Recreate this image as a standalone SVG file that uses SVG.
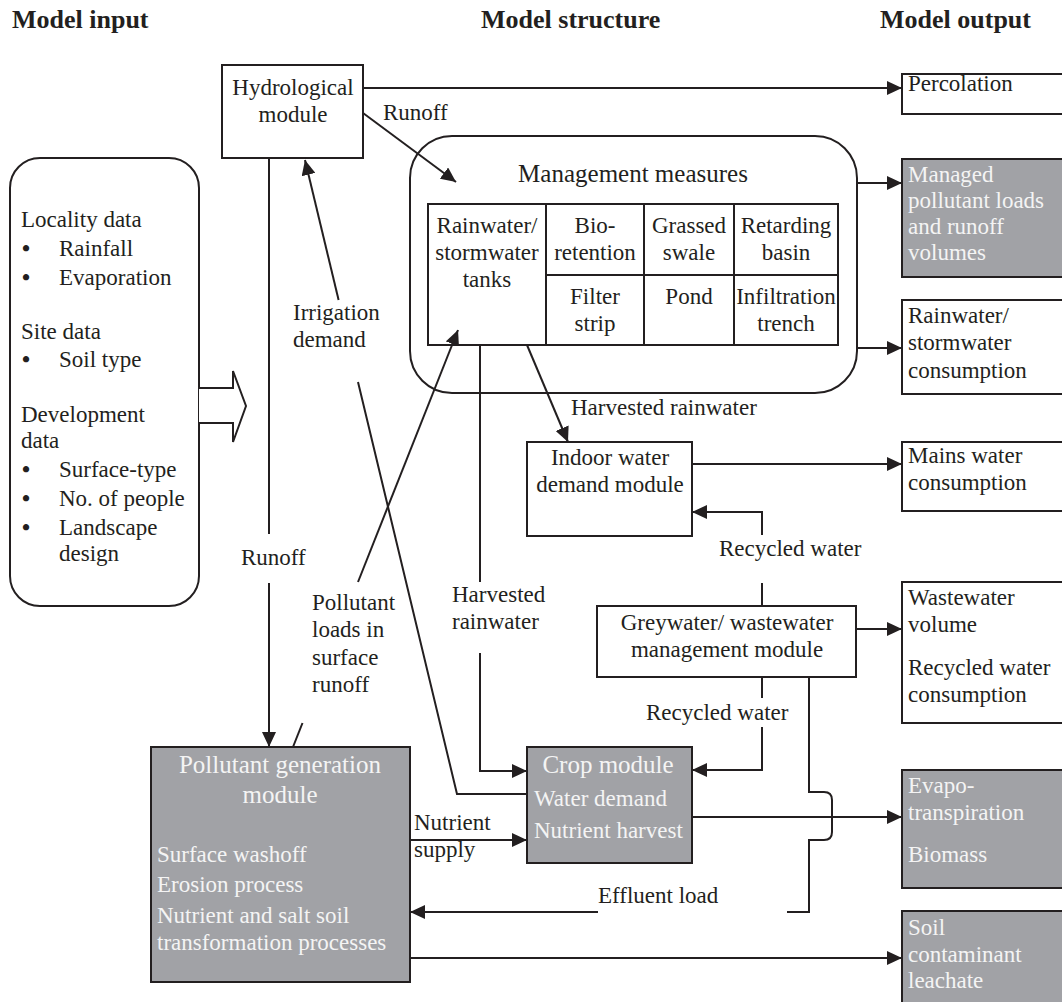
<svg xmlns="http://www.w3.org/2000/svg" width="1062" height="1002" viewBox="0 0 1062 1002">
<defs>
<style>
.t{font-family:"Liberation Serif","Times New Roman",serif;font-size:23px;fill:#231f20}
.w{fill:#f4f4f4}
.c{text-anchor:middle}
.h{font-weight:bold;font-size:26px}
.big{font-size:25px}
.b{font-weight:bold;text-anchor:middle}
.box{fill:#fff;stroke:#231f20;stroke-width:2}
.gray{fill:#a1a2a6;stroke:#231f20;stroke-width:2}
.ln{fill:none;stroke:#231f20;stroke-width:2}
</style>
<marker id="ah" markerUnits="userSpaceOnUse" markerWidth="16" markerHeight="14" refX="15" refY="7" orient="auto">
<path d="M0,0 L15,7 L0,14 z" fill="#231f20"/>
</marker>
</defs>
<rect width="1062" height="1002" fill="#fff"/>

<g id="headers">
<text class="t h" x="12" y="28">Model input</text>
<text class="t h" x="481" y="28">Model structure</text>
<text class="t h" x="880" y="28">Model output</text>
</g>

<g id="input">
<rect class="box" x="10" y="158" width="189" height="448" rx="30"/>
<text class="t" x="21" y="227">Locality data</text>
<text class="t b" x="26" y="256">•</text><text class="t" x="59" y="256">Rainfall</text>
<text class="t b" x="26" y="285">•</text><text class="t" x="59" y="285">Evaporation</text>
<text class="t" x="21" y="339">Site data</text>
<text class="t b" x="26" y="367">•</text><text class="t" x="59" y="367">Soil type</text>
<text class="t" x="21" y="422">Development</text>
<text class="t" x="21" y="448">data</text>
<text class="t b" x="26" y="477">•</text><text class="t" x="59" y="477">Surface-type</text>
<text class="t b" x="26" y="506">•</text><text class="t" x="59" y="506">No. of people</text>
<text class="t b" x="26" y="535">•</text><text class="t" x="59" y="535">Landscape</text>
<text class="t" x="59" y="561">design</text>
</g>

<g id="input-arrow">
<polyline class="box" points="199,388 233,388 233,371 246,406 233,442 233,423 199,423"/>
</g>

<g id="hydrological">
<rect class="box" x="222" y="65" width="141" height="93"/>
<text class="t c" x="293" y="95">Hydrological</text>
<text class="t c" x="293" y="122">module</text>
</g>

<g id="management">
<rect class="box" x="410" y="136" width="447" height="257" rx="42"/>
<text class="t c big" x="633" y="182">Management measures</text>
<rect class="box" x="428" y="204" width="410" height="141"/>
<line class="ln" x1="546" y1="204" x2="546" y2="345"/>
<line class="ln" x1="644" y1="204" x2="644" y2="345"/>
<line class="ln" x1="734" y1="204" x2="734" y2="345"/>
<line class="ln" x1="546" y1="275" x2="838" y2="275"/>
<text class="t c" x="487" y="233">Rainwater/</text>
<text class="t c" x="487" y="260">stormwater</text>
<text class="t c" x="487" y="287">tanks</text>
<text class="t c" x="595" y="233">Bio-</text>
<text class="t c" x="595" y="260">retention</text>
<text class="t c" x="689" y="233">Grassed</text>
<text class="t c" x="689" y="260">swale</text>
<text class="t c" x="786" y="233">Retarding</text>
<text class="t c" x="786" y="260">basin</text>
<text class="t c" x="595" y="304">Filter</text>
<text class="t c" x="595" y="331">strip</text>
<text class="t c" x="689" y="304">Pond</text>
<text class="t c" x="786" y="304">Infiltration</text>
<text class="t c" x="786" y="331">trench</text>
</g>

<g id="indoor">
<rect class="box" x="527" y="442" width="165" height="94"/>
<text class="t c" x="610" y="465">Indoor water</text>
<text class="t c" x="610" y="492">demand module</text>
</g>

<g id="greywater">
<rect class="box" x="597" y="606" width="259" height="71"/>
<text class="t c" x="727" y="630">Greywater/ wastewater</text>
<text class="t c" x="727" y="657">management module</text>
</g>

<g id="crop">
<rect class="gray" x="527" y="747" width="165" height="116"/>
<text class="t w c big" x="608" y="773">Crop module</text>
<text class="t w" x="534" y="806">Water demand</text>
<text class="t w" x="534" y="838">Nutrient harvest</text>
</g>

<g id="pollutant">
<rect class="gray" x="151" y="747" width="259" height="235"/>
<text class="t w c big" x="280" y="773">Pollutant generation</text>
<text class="t w c big" x="280" y="803">module</text>
<text class="t w" x="157" y="862">Surface washoff</text>
<text class="t w" x="157" y="892">Erosion process</text>
<text class="t w" x="157" y="923">Nutrient and salt soil</text>
<text class="t w" x="157" y="950">transformation processes</text>
</g>

<g id="out-percolation">
<rect class="box" x="902" y="74" width="170" height="40"/>
<text class="t" x="908" y="91">Percolation</text>
</g>
<g id="out-managed">
<rect class="gray" x="902" y="159" width="170" height="118"/>
<text class="t w" x="908" y="182">Managed</text>
<text class="t w" x="908" y="208">pollutant loads</text>
<text class="t w" x="908" y="234">and runoff</text>
<text class="t w" x="908" y="260">volumes</text>
</g>
<g id="out-rainwater">
<rect class="box" x="902" y="300" width="170" height="94"/>
<text class="t" x="908" y="323">Rainwater/</text>
<text class="t" x="908" y="350">stormwater</text>
<text class="t" x="908" y="378">consumption</text>
</g>
<g id="out-mains">
<rect class="box" x="902" y="442" width="170" height="69"/>
<text class="t" x="908" y="463">Mains water</text>
<text class="t" x="908" y="490">consumption</text>
</g>
<g id="out-wastewater">
<rect class="box" x="902" y="582" width="170" height="141"/>
<text class="t" x="908" y="605">Wastewater</text>
<text class="t" x="908" y="632">volume</text>
<text class="t" x="908" y="675">Recycled water</text>
<text class="t" x="908" y="702">consumption</text>
</g>
<g id="out-evapo">
<rect class="gray" x="902" y="770" width="170" height="118"/>
<text class="t w" x="908" y="793">Evapo-</text>
<text class="t w" x="908" y="820">transpiration</text>
<text class="t w" x="908" y="862">Biomass</text>
</g>
<g id="out-soil">
<rect class="gray" x="902" y="911" width="170" height="100"/>
<text class="t w" x="908" y="935">Soil</text>
<text class="t w" x="908" y="962">contaminant</text>
<text class="t w" x="908" y="988">leachate</text>
</g>

<g id="connectors">
<line class="ln" x1="363" y1="88" x2="902" y2="88" marker-end="url(#ah)"/>
<line class="ln" x1="363" y1="113" x2="456" y2="182" marker-end="url(#ah)"/>
<line class="ln" x1="269" y1="158" x2="269" y2="534"/>
<line class="ln" x1="269" y1="583" x2="269" y2="747" marker-end="url(#ah)"/>
<polyline class="ln" points="527,794 457,794 358,382"/>
<line class="ln" x1="338.6" y1="300" x2="305" y2="160" marker-end="url(#ah)"/>
<line class="ln" x1="293" y1="747" x2="302.5" y2="723"/>
<line class="ln" x1="358" y1="582" x2="458" y2="330" marker-end="url(#ah)"/>
<line class="ln" x1="480" y1="345" x2="480" y2="582"/>
<polyline class="ln" points="480,653 480,771 527,771" marker-end="url(#ah)"/>
<line class="ln" x1="527" y1="345" x2="568" y2="442" marker-end="url(#ah)"/>
<line class="ln" x1="857" y1="183" x2="902" y2="183" marker-end="url(#ah)"/>
<line class="ln" x1="857" y1="348" x2="902" y2="348" marker-end="url(#ah)"/>
<line class="ln" x1="692" y1="464" x2="902" y2="464" marker-end="url(#ah)"/>
<line class="ln" x1="762" y1="606" x2="762" y2="583"/>
<polyline class="ln" points="762,535 762,512 692,512" marker-end="url(#ah)"/>
<line class="ln" x1="856" y1="629" x2="902" y2="629" marker-end="url(#ah)"/>
<line class="ln" x1="762" y1="677" x2="762" y2="698"/>
<polyline class="ln" points="762,727 762,770 692,770" marker-end="url(#ah)"/>
<path class="ln" d="M809,677 V792 H824 Q832,792 832,800 V832 Q832,840 824,840 H809 V912 H787"/>
<line class="ln" x1="598" y1="912" x2="410" y2="912" marker-end="url(#ah)"/>
<line class="ln" x1="692" y1="817" x2="902" y2="817" marker-end="url(#ah)"/>
<line class="ln" x1="410" y1="840" x2="527" y2="840" marker-end="url(#ah)"/>
<line class="ln" x1="410" y1="958" x2="902" y2="958" marker-end="url(#ah)"/>
</g>

<g id="labels">
<text class="t" x="383" y="120">Runoff</text>
<text class="t" x="241" y="565">Runoff</text>
<text class="t" x="293" y="320">Irrigation</text>
<text class="t" x="293" y="347">demand</text>
<text class="t" x="312" y="610">Pollutant</text>
<text class="t" x="312" y="637">loads in</text>
<text class="t" x="312" y="665">surface</text>
<text class="t" x="312" y="692">runoff</text>
<text class="t" x="452" y="602">Harvested</text>
<text class="t" x="452" y="629">rainwater</text>
<text class="t" x="571" y="415">Harvested rainwater</text>
<text class="t" x="719" y="556">Recycled water</text>
<text class="t" x="646" y="720">Recycled water</text>
<text class="t" x="414" y="830">Nutrient</text>
<text class="t" x="414" y="857">supply</text>
<text class="t" x="598" y="903">Effluent load</text>
</g>
</svg>
